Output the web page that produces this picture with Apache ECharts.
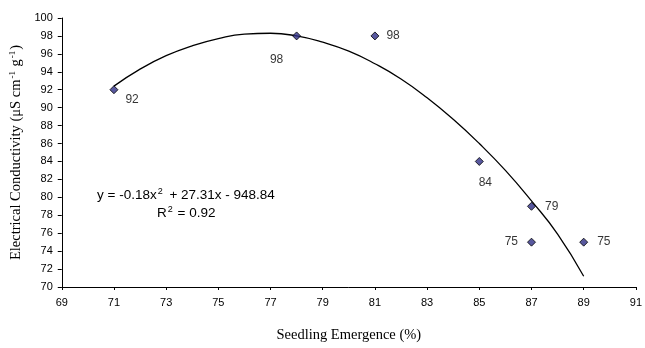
<!DOCTYPE html>
<html><head><meta charset="utf-8">
<script src="https://cdn.jsdelivr.net/npm/echarts@6/dist/echarts.min.js"></script>
<style>html,body{margin:0;padding:0;background:#fff}#c{width:645px;height:348px}</style>
</head><body><div id="c"></div>
<script>
// Observed points
var emergence = [71, 78, 81, 85, 87, 87, 89];
var conductivity = [92, 98, 98, 84, 79, 75, 75];
// Trendline
var trendX = [71, 72, 73, 74, 75, 76, 77, 78, 79, 80, 81, 82, 83, 84, 85, 86, 87, 88, 89];
var trendY = [92.4, 94.3, 95.8, 96.9, 97.7, 98.2, 98.3, 98.0, 97.3, 96.3, 94.9, 93.2, 91.1, 88.7, 86.0, 83.0, 79.6, 75.9, 71.2];
var xTicks = [69, 71, 73, 75, 77, 79, 81, 83, 85, 87, 89, 91];
var yTicks = [70, 72, 74, 76, 78, 80, 82, 84, 86, 88, 90, 92, 94, 96, 98, 100];
var eqLine1 = 'y = -0.18x{s|2} + 27.31x - 948.84';
var eqLine2 = 'R{s|2} = 0.92';

// label placement style per point (presentation only)
var labelStyle = [
  {position: 'right', offset: [2, 10]},
  {position: 'bottom', offset: [-20, 8]},
  {position: 'right', offset: [2, 0]},
  {position: 'bottom', offset: [6, 6]},
  {position: 'right', offset: [4, 0]},
  {position: 'left', offset: [-4, 0]},
  {position: 'right', offset: [4, 0]}
];

var pts = emergence.map(function (x, i) {
  return {value: [x, conductivity[i]], label: {show: true, position: labelStyle[i].position, offset: labelStyle[i].offset, formatter: String(conductivity[i])}};
});
var trend = trendX.map(function (x, i) { return [x, trendY[i]]; });

var chart = echarts.init(document.getElementById('c'), null, {renderer: 'canvas'});
var sans = 'Liberation Sans, Arial, sans-serif';
var serif = 'Liberation Serif, Times New Roman, serif';
chart.setOption({
  animation: false,
  backgroundColor: '#fff',
  grid: {left: 55, top: 18, right: 3, bottom: 56, containLabel: false},
  xAxis: {
    type: 'value', min: xTicks[0], max: xTicks[xTicks.length - 1], interval: 2,
    name: 'Seedling Emergence (%)', nameLocation: 'middle', nameGap: 41,
    nameTextStyle: {fontFamily: serif, fontSize: 14.5, color: '#000'},
    axisLine: {show: true, lineStyle: {color: '#000', width: 1}},
    axisTick: {show: true, length: 3, lineStyle: {color: '#000'}},
    axisLabel: {fontFamily: sans, fontSize: 11, color: '#000', margin: 10},
    splitLine: {show: false}
  },
  yAxis: {
    type: 'value', min: yTicks[0], max: yTicks[yTicks.length - 1], interval: 2,
    name: 'Electrical Conductivity (μS cm{s|-1} g{s|-1})', nameLocation: 'middle', nameGap: 30, nameRotate: 90,
    nameTextStyle: {fontFamily: serif, fontSize: 14.5, color: '#000',
      rich: {s: {fontFamily: serif, fontSize: 9, color: '#000', verticalAlign: 'top', padding: [0, 1, 7, 1]}}},
    axisLine: {show: true, lineStyle: {color: '#000', width: 1}},
    axisTick: {show: true, length: 4, lineStyle: {color: '#000'}},
    axisLabel: {fontFamily: sans, fontSize: 11, color: '#000', margin: 9},
    splitLine: {show: false}
  },
  series: [
    {
      type: 'line', data: trend, smooth: true, showSymbol: false, symbol: 'none',
      lineStyle: {color: '#000', width: 1.3}, z: 2, silent: true
    },
    {
      type: 'scatter', data: pts, symbol: 'diamond', symbolSize: 8,
      itemStyle: {color: '#2e2e86', borderColor: '#000', borderWidth: 1},
      label: {fontFamily: sans, fontSize: 12, color: '#000'},
      z: 3
    }
  ],
  graphic: [
    {type: 'text', left: 97, top: 187, style: {text: eqLine1, font: '13.5px ' + sans, fill: '#000',
      rich: {s: {fontSize: 9, fontFamily: sans, fill: '#000', verticalAlign: 'top', padding: [0, 3, 7, 1]}}}},
    {type: 'text', left: 157, top: 205, style: {text: eqLine2, font: '13.5px ' + sans, fill: '#000',
      rich: {s: {fontSize: 9, fontFamily: sans, fill: '#000', verticalAlign: 'top', padding: [0, 1, 7, 1]}}}}
  ]
});
</script></body></html>
